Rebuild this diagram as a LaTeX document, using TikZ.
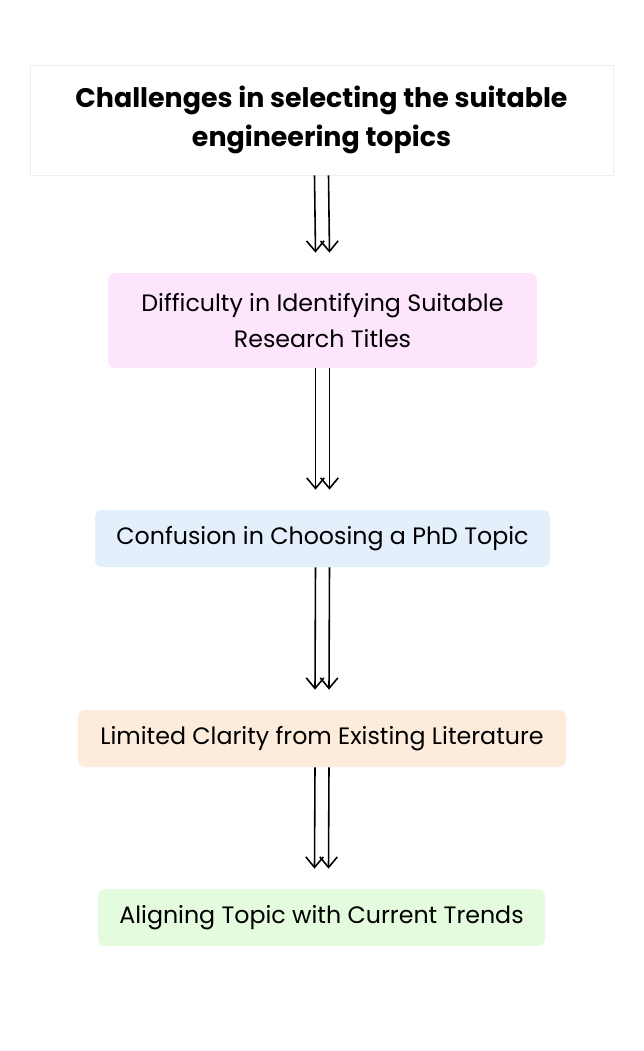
\documentclass[tikz,border=0pt]{standalone}
\usepackage{fontspec}
\setmainfont{Poppins}
\definecolor{pinkbox}{HTML}{FDE6FB}
\definecolor{bluebox}{HTML}{E3F0FC}
\definecolor{peachbox}{HTML}{FDEBDC}
\definecolor{greenbox}{HTML}{E4FBDE}
\definecolor{titleline}{HTML}{EEEEEE}
\usetikzlibrary{arrows.meta}
\tikzset{
  stage/.style={rounded corners=4pt, align=center, inner sep=0pt, font=\fontsize{13.5pt}{21pt}\selectfont},
  flow/.style={line width=0.9pt, -{Straight Barb[length=6pt,width=10pt]}},
}
\begin{document}
\begin{tikzpicture}[x=0.02cm, y=-0.02cm]
      \useasboundingbox (0,0) rectangle (644,1051);
      \node [stage, rounded corners=0pt, draw=titleline, fill=white, minimum width=583*0.02cm, minimum height=110*0.02cm, font=\bfseries\fontsize{15.3pt}{22pt}\selectfont] (title) at (321.5,120) {Challenges in selecting the suitable\\engineering topics};
      \node [stage, fill=pinkbox, minimum width=429*0.02cm, minimum height=95*0.02cm] (ident) at (322.5,320.5) {Difficulty in Identifying Suitable\\Research Titles};
      \node [stage, fill=bluebox, minimum width=455*0.02cm, minimum height=57*0.02cm] (phd) at (322.5,538.5) {Confusion in Choosing a PhD Topic};
      \node [stage, fill=peachbox, minimum width=488*0.02cm, minimum height=57*0.02cm] (lit) at (322,738.5) {Limited Clarity from Existing Literature};
      \node [stage, fill=greenbox, minimum width=447*0.02cm, minimum height=57*0.02cm] (trend) at (321.5,917.5) {Aligning Topic with Current Trends};

      % double arrows between the boxes
      \foreach \a/\b in {title/ident, ident/phd, phd/lit, lit/trend} {
        \coordinate (\a-end) at ([yshift=20*0.02cm]\b.north);
        \draw [flow] ([xshift=-7*0.02cm]\a.south) -- ([xshift=-7*0.02cm]\a-end);
        \draw [flow] ([xshift=7*0.02cm]\a.south) -- ([xshift=7*0.02cm]\a-end);
      }
\end{tikzpicture}
\end{document}
